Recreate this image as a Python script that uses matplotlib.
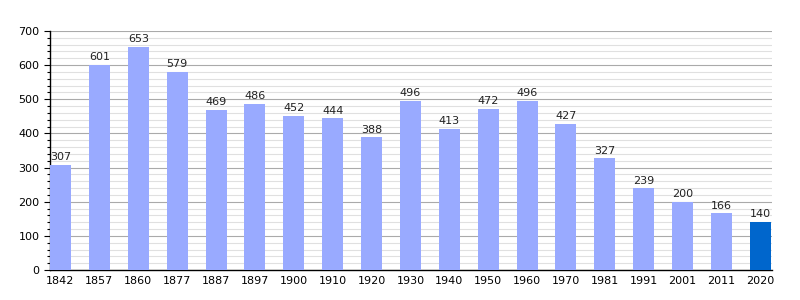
import matplotlib
matplotlib.use("Agg")
import matplotlib.pyplot as plt
from matplotlib.ticker import MultipleLocator

years = ["1842", "1857", "1860", "1877", "1887", "1897", "1900", "1910", "1920", "1930",
         "1940", "1950", "1960", "1970", "1981", "1991", "2001", "2011", "2020"]
population = [307, 601, 653, 579, 469, 486, 452, 444, 388, 496,
              413, 472, 496, 427, 327, 239, 200, 166, 140]

colors = ["#99aaff"] * (len(years) - 1) + ["#0066cc"]

fig = plt.figure(figsize=(8, 3), dpi=100)
ax = fig.add_axes([0.0625, 0.1, 0.9025, 0.797])

x = range(len(years))
bars = ax.bar(x, population, width=0.54, color=colors, zorder=3)

for xi, v in zip(x, population):
    ax.text(xi, v + 8, str(v), ha="center", va="bottom", fontsize=8, color="#222222", zorder=4)

ax.set_ylim(0, 700)
ax.set_xlim(-0.27, 18.3)
ax.set_xticks(list(x))
ax.set_xticklabels(years, fontsize=8)
ax.yaxis.set_major_locator(MultipleLocator(100))
ax.yaxis.set_minor_locator(MultipleLocator(20))
ax.tick_params(axis="y", labelsize=8, length=4, width=0.8)
ax.tick_params(axis="y", which="minor", length=2, width=0.8)
ax.tick_params(axis="x", length=0, pad=4)

ax.grid(axis="y", which="major", color="#aaaaaa", linewidth=0.8, zorder=0)
ax.grid(axis="y", which="minor", color="#e0e0e0", linewidth=0.8, zorder=0)

for side in ["top", "right"]:
    ax.spines[side].set_visible(False)
ax.spines["left"].set_linewidth(1)
ax.spines["bottom"].set_linewidth(1)

fig.savefig("out.png", dpi=100)
